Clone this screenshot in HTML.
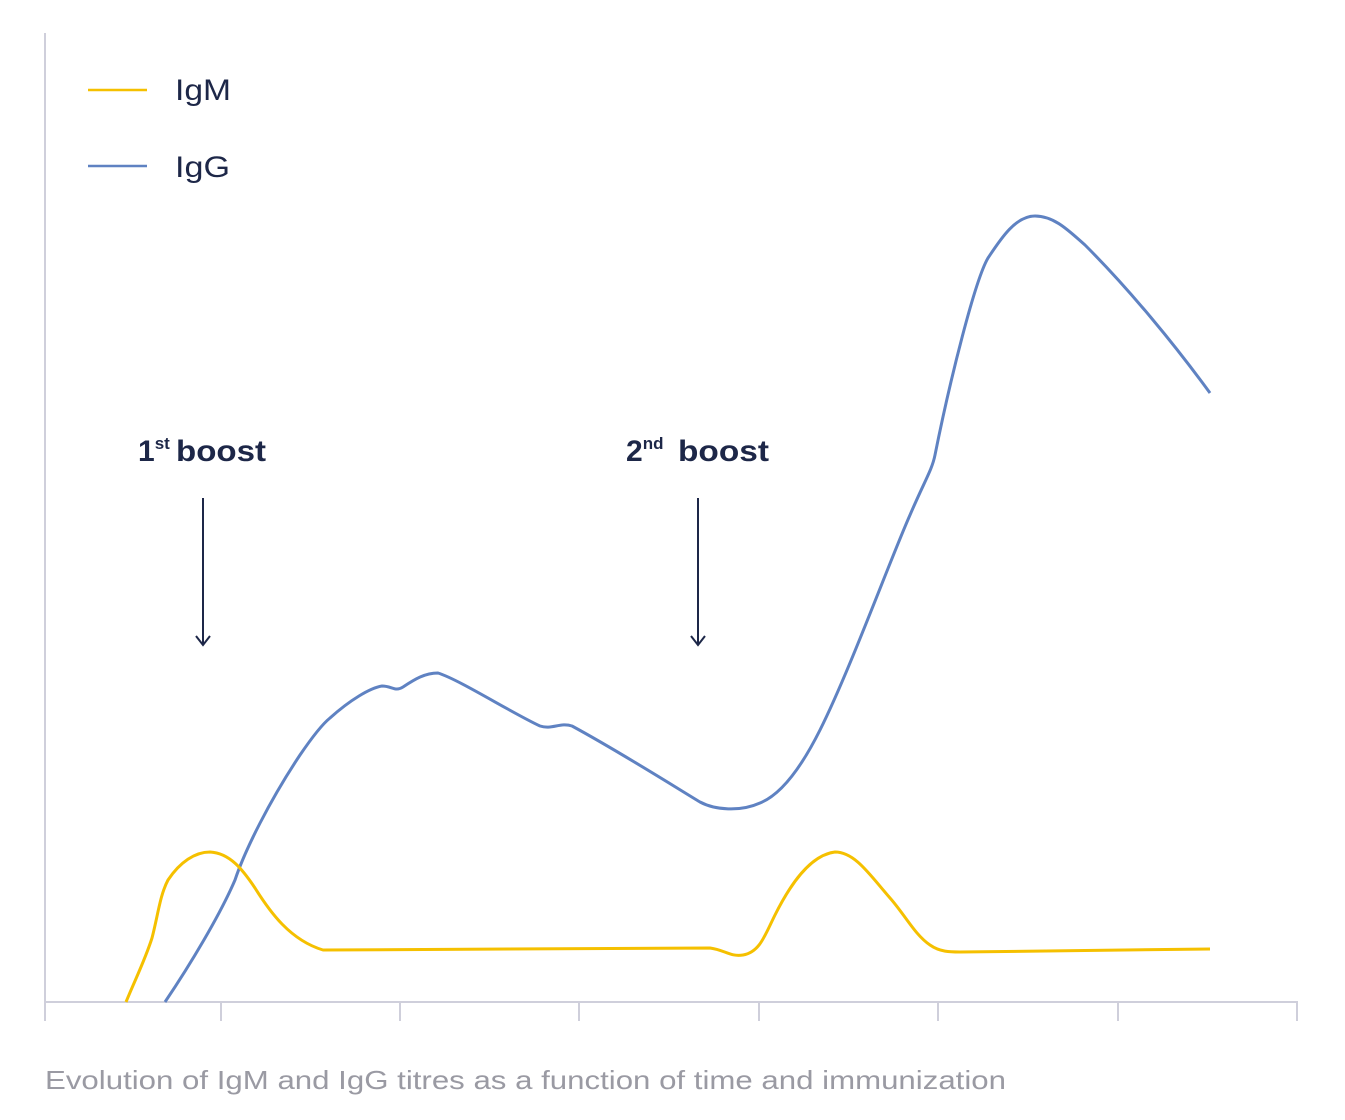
<!DOCTYPE html>
<html><head><meta charset="utf-8"><style>
html,body{margin:0;padding:0;background:#fff;}
svg{display:block;}
</style></head><body>
<svg width="1345" height="1120" viewBox="0 0 1345 1120" xmlns="http://www.w3.org/2000/svg">
<g stroke="#cfcfdb" stroke-width="2" fill="none">
<line x1="45" y1="33" x2="45" y2="1021"/>
<line x1="45" y1="1002" x2="1298" y2="1002"/>
<line x1="221" y1="1002" x2="221" y2="1021"/>
<line x1="400" y1="1002" x2="400" y2="1021"/>
<line x1="579" y1="1002" x2="579" y2="1021"/>
<line x1="759" y1="1002" x2="759" y2="1021"/>
<line x1="938" y1="1002" x2="938" y2="1021"/>
<line x1="1118" y1="1002" x2="1118" y2="1021"/>
<line x1="1297" y1="1002" x2="1297" y2="1021"/>
</g>
<line x1="88" y1="90" x2="147" y2="90" stroke="#f5c000" stroke-width="2.5"/>
<line x1="88" y1="166" x2="147" y2="166" stroke="#5f82c2" stroke-width="2.5"/>
<g font-family="Liberation Sans, sans-serif" font-size="30" fill="#1d2748">
<text x="175" y="100" textLength="56" lengthAdjust="spacingAndGlyphs">IgM</text>
<text x="175" y="177" textLength="55" lengthAdjust="spacingAndGlyphs">IgG</text>
</g>
<g font-family="Liberation Sans, sans-serif" font-size="30" font-weight="bold" fill="#1d2748">
<text x="138" y="461">1<tspan font-size="17" dy="-12">st</tspan></text>
<text x="176" y="461" textLength="90" lengthAdjust="spacingAndGlyphs">boost</text>
<text x="626" y="461">2<tspan font-size="17" dy="-12">nd</tspan></text>
<text x="678" y="461" textLength="91" lengthAdjust="spacingAndGlyphs">boost</text>
</g>
<g stroke="#1d2748" stroke-width="2" fill="none">
<line x1="203" y1="498" x2="203" y2="645"/>
<polyline points="196,636 203,645 210,636"/>
<line x1="698" y1="498" x2="698" y2="645"/>
<polyline points="691,636 698,645 705,636"/>
</g>
<path fill="none" stroke="#5f82c2" stroke-width="3" stroke-linejoin="round" d="M165,1002 C190,965 220,915 235,880 C245,850 270,800 300,755 C315,733 325,722 330,718 C350,700 370,688 382,686 C392,686 395,692 403,687 C415,679 425,673 438,673 C460,680 510,712 540,726 C552,730 560,722 572,726 C620,752 680,790 700,802 C715,810 740,812 760,803 C780,795 800,770 820,730 C850,670 890,560 910,515 C925,480 932,470 935,455 C950,380 975,280 988,258 C1000,240 1015,216 1035,216 C1055,216 1070,232 1085,245 C1130,290 1175,345 1210,393"/>
<path fill="none" stroke="#f5c000" stroke-width="3" stroke-linejoin="round" d="M126,1002 C135,980 145,960 152,938 C158,915 160,895 168,880 C180,862 195,852 210,852 C230,853 243,870 255,888 C270,912 290,940 323,950 L710,948 C725,950 730,957 743,955 C760,952 765,935 775,915 C790,885 810,855 835,852 C855,852 870,875 890,898 C905,915 915,935 930,945 C940,952 950,952 960,952 L1210,949"/>
<text x="45" y="1089" font-family="Liberation Sans, sans-serif" font-size="26" fill="#9a9aa3" textLength="961" lengthAdjust="spacingAndGlyphs">Evolution of IgM and IgG titres as a function of time and immunization</text>
</svg>
</body></html>
